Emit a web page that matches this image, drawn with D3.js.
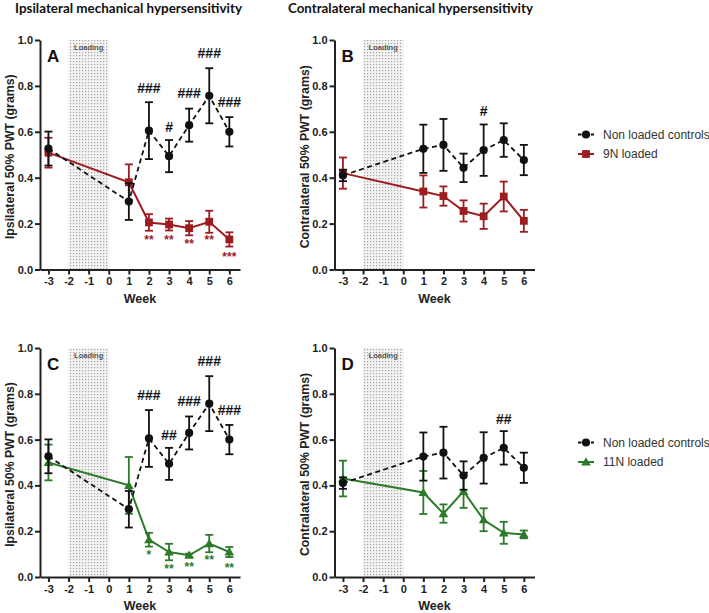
<!DOCTYPE html>
<html><head><meta charset="utf-8">
<script src="https://cdn.jsdelivr.net/npm/d3@7"></script>
<style>
html,body{margin:0;padding:0;background:#fff;}
svg{display:block;}
</style></head>
<body>
<svg id="chart" width="709" height="613"></svg>
<script>
// ---------------- DATA ----------------
const weeks = [-3, 1, 2, 3, 4, 5, 6];
const xTicks = [-3, -2, -1, 0, 1, 2, 3, 4, 5, 6];
const yTicks = [0, 0.2, 0.4, 0.6, 0.8, 1.0];
const loadingWeeks = [-2, 0];

const ctrlIpsiMean   = [0.527, 0.296, 0.605, 0.494, 0.629, 0.757, 0.600];
const ctrlIpsiErr    = [0.074, 0.080, 0.124, 0.070, 0.072, 0.120, 0.064];
const ctrlContraMean = [0.410, 0.526, 0.543, 0.443, 0.520, 0.564, 0.477];
const ctrlContraErr  = [0.025, 0.105, 0.113, 0.062, 0.112, 0.073, 0.066];

const n9IpsiMean     = [0.509, 0.380, 0.205, 0.196, 0.180, 0.208, 0.131];
const n9IpsiErr      = [0.065, 0.078, 0.036, 0.026, 0.031, 0.048, 0.031];
const n9ContraMean   = [0.420, 0.340, 0.320, 0.255, 0.232, 0.318, 0.212];
const n9ContraErr    = [0.068, 0.070, 0.042, 0.046, 0.055, 0.065, 0.048];

const n11IpsiMean    = [0.500, 0.400, 0.163, 0.109, 0.095, 0.146, 0.109];
const n11IpsiErr     = [0.078, 0.124, 0.030, 0.036, 0.007, 0.038, 0.022];
const n11ContraMean  = [0.430, 0.369, 0.277, 0.374, 0.250, 0.193, 0.186];
const n11ContraErr   = [0.078, 0.094, 0.040, 0.072, 0.050, 0.048, 0.017];

// significance annotations: [week, label, y-value]
const hashA = [[2, "###", 0.793], [3, "#", 0.62], [4, "###", 0.767], [5, "###", 0.942], [6, "###", 0.73]];
const hashB = [[4, "#", 0.69]];
const hashC = [[2, "###", 0.793], [3, "##", 0.62], [4, "###", 0.767], [5, "###", 0.942], [6, "###", 0.73]];
const hashD = [[5, "##", 0.69]];
const starsA = [[2, "**", 0.141], [3, "**", 0.141], [4, "**", 0.122], [5, "**", 0.138], [6, "***", 0.066]];
const starsC = [[2, "*", 0.106], [3, "**", 0.046], [4, "**", 0.054], [5, "**", 0.083], [6, "**", 0.052]];

const titles = ["Ipsilateral mechanical hypersensitivity", "Contralateral mechanical hypersensitivity"];
const legendCtrl = "Non loaded controls";
const legend9 = "9N loaded";
const legend11 = "11N loaded";

// ---------------- STYLE ----------------
const RED = "#9d1c1f", GREEN = "#2d7a2a", BLACK = "#111";
const AXIS = "#222";

const svg = d3.select("#chart");

// stipple pattern
const defs = svg.append("defs");
const pat = defs.append("pattern").attr("id", "stip").attr("patternUnits", "userSpaceOnUse")
  .attr("width", 3).attr("height", 3);
pat.append("rect").attr("width", 3).attr("height", 3).attr("fill", "#f3f3f3");
pat.append("rect").attr("x", 1).attr("y", 1).attr("width", 1.2).attr("height", 1.2).attr("fill", "#a5a5a5");

function fitText(sel, target) {
  let fs = parseFloat(sel.style("font-size"));
  for (let i = 0; i < 4; i++) {
    const w = sel.node().getComputedTextLength();
    if (!w) break;
    fs = fs * target / w;
    sel.style("font-size", fs + "px");
  }
}

// titles
const t1 = svg.append("text").attr("x", 15).attr("y", 13)
  .style("font-family", "Lato, 'Open Sans', sans-serif").style("font-weight", "bold")
  .style("font-size", "12.5px").attr("fill", "#111").text(titles[0]);
fitText(t1, 227);
const t2 = svg.append("text").attr("x", 288).attr("y", 13)
  .style("font-family", "Lato, 'Open Sans', sans-serif").style("font-weight", "bold")
  .style("font-size", "12.5px").attr("fill", "#111").text(titles[1]);
fitText(t2, 245);

const panels = [
  {letter: "A", x0: 40, x1: 240, y0: 40, y1: 269.5, ylab: "Ipsilateral 50% PWT (grams)", ctrl: [ctrlIpsiMean, ctrlIpsiErr],
   load: [n9IpsiMean, n9IpsiErr], color: RED, shape: "square", hashes: hashA, stars: starsA},
  {letter: "B", x0: 334.5, x1: 534.5, y0: 40, y1: 269.5, ylab: "Contralateral 50% PWT (grams)", ctrl: [ctrlContraMean, ctrlContraErr],
   load: [n9ContraMean, n9ContraErr], color: RED, shape: "square", hashes: hashB, stars: [], legend: legend9},
  {letter: "C", x0: 40, x1: 240, y0: 348, y1: 577, ylab: "Ipsilateral 50% PWT (grams)", ctrl: [ctrlIpsiMean, ctrlIpsiErr],
   load: [n11IpsiMean, n11IpsiErr], color: GREEN, shape: "triangle", hashes: hashC, stars: starsC},
  {letter: "D", x0: 334.5, x1: 534.5, y0: 348, y1: 577, ylab: "Contralateral 50% PWT (grams)", ctrl: [ctrlContraMean, ctrlContraErr],
   load: [n11ContraMean, n11ContraErr], color: GREEN, shape: "triangle", hashes: hashD, stars: [], legend: legend11}
];

function drawMarker(g, shape, cx, cy, color) {
  if (shape === "circle") {
    g.append("circle").attr("cx", cx).attr("cy", cy).attr("r", 4.1).attr("fill", BLACK);
  } else if (shape === "square") {
    g.append("rect").attr("x", cx - 3.9).attr("y", cy - 3.9).attr("width", 7.8).attr("height", 7.8).attr("fill", color);
  } else {
    g.append("path").attr("transform", `translate(${cx},${cy + 0.8})`)
      .attr("d", d3.symbol().type(d3.symbolTriangle).size(40)()).attr("fill", color);
  }
}

panels.forEach(p => {
  const g = svg.append("g");
  const x = d3.scaleLinear().domain([-3.42, 6.53]).range([p.x0, p.x1]);
  const y = d3.scaleLinear().domain([0, 1]).range([p.y1, p.y0]);

  // loading band
  g.append("rect").attr("x", x(loadingWeeks[0])).attr("y", y(1))
    .attr("width", x(loadingWeeks[1]) - x(loadingWeeks[0])).attr("height", y(0) - y(1))
    .attr("fill", "url(#stip)");
  g.append("text").attr("x", x((loadingWeeks[0] + loadingWeeks[1]) / 2)).attr("y", y(1) + 10)
    .attr("text-anchor", "middle").style("font-family", "Arial, 'Liberation Sans', sans-serif")
    .style("font-weight", "bold").style("font-size", "7.5px").attr("fill", "#555").text("Loading");

  // axes
  const ya = g.append("g").attr("transform", `translate(${p.x0},0)`)
    .call(d3.axisLeft(y).tickValues(yTicks).tickFormat(d3.format(".1f")).tickSize(5).tickSizeOuter(0).tickPadding(2));
  const xa = g.append("g").attr("transform", `translate(0,${p.y1})`)
    .call(d3.axisBottom(x).tickValues(xTicks).tickFormat(d3.format("d")).tickSize(5).tickSizeOuter(0).tickPadding(3));
  [ya, xa].forEach(a => {
    a.select(".domain").attr("stroke", AXIS).attr("stroke-width", 2);
    a.selectAll(".tick line").attr("stroke", AXIS).attr("stroke-width", 2);
    a.selectAll(".tick text").style("font-family", "Arial, 'Liberation Sans', sans-serif")
      .style("font-weight", "bold").style("font-size", "11px").attr("fill", "#222");
  });
  xa.selectAll(".tick text").text(d => d < 0 ? "-" + Math.abs(d) : d);

  // axis labels
  g.append("text").attr("x", (p.x0 + p.x1) / 2).attr("y", p.y1 + 33)
    .attr("text-anchor", "middle").style("font-family", "Arial, 'Liberation Sans', sans-serif")
    .style("font-weight", "bold").style("font-size", "12.5px").attr("fill", "#222").text("Week");
  g.append("text").attr("transform", `translate(${p.x0 - 26},${(p.y0 + p.y1) / 2 + 2}) rotate(-90)`)
    .attr("text-anchor", "middle").style("font-family", "Arial, 'Liberation Sans', sans-serif")
    .style("font-weight", "bold").style("font-size", "12.3px").attr("fill", "#222").text(p.ylab);

  // panel letter
  g.append("text").attr("x", p.x0 + 7).attr("y", p.y0 + 22)
    .style("font-family", "Arial, 'Liberation Sans', sans-serif").style("font-weight", "bold")
    .style("font-size", "17px").attr("fill", "#111").text(p.letter);

  const line = d3.line().x(d => x(d[0])).y(d => y(d[1]));

  // loaded series
  const lm = p.load[0], le = p.load[1];
  const lpts = weeks.map((w, i) => [w, lm[i]]);
  g.append("path").attr("d", line(lpts)).attr("fill", "none").attr("stroke", p.color).attr("stroke-width", 2);
  weeks.forEach((w, i) => {
    const cx = x(w);
    g.append("line").attr("x1", cx).attr("x2", cx).attr("y1", y(lm[i] - le[i])).attr("y2", y(lm[i] + le[i]))
      .attr("stroke", p.color).attr("stroke-width", 1.8);
    [lm[i] - le[i], lm[i] + le[i]].forEach(v => g.append("line").attr("x1", cx - 4).attr("x2", cx + 4)
      .attr("y1", y(v)).attr("y2", y(v)).attr("stroke", p.color).attr("stroke-width", 1.8));
    drawMarker(g, p.shape, cx, y(lm[i]), p.color);
  });

  // control series
  const cm = p.ctrl[0], ce = p.ctrl[1];
  const cpts = weeks.map((w, i) => [w, cm[i]]);
  g.append("path").attr("d", line(cpts)).attr("fill", "none").attr("stroke", BLACK)
    .attr("stroke-width", 1.8).attr("stroke-dasharray", "5,3.5");
  weeks.forEach((w, i) => {
    const cx = x(w);
    g.append("line").attr("x1", cx).attr("x2", cx).attr("y1", y(cm[i] - ce[i])).attr("y2", y(cm[i] + ce[i]))
      .attr("stroke", BLACK).attr("stroke-width", 1.8);
    [cm[i] - ce[i], cm[i] + ce[i]].forEach(v => g.append("line").attr("x1", cx - 4).attr("x2", cx + 4)
      .attr("y1", y(v)).attr("y2", y(v)).attr("stroke", BLACK).attr("stroke-width", 1.8));
    drawMarker(g, "circle", cx, y(cm[i]), BLACK);
  });

  // hashes
  p.hashes.forEach(h => {
    g.append("text").attr("x", x(h[0])).attr("y", y(h[2]) + 5)
      .attr("text-anchor", "middle").style("font-family", "Arial, 'Liberation Sans', sans-serif")
      .style("font-weight", "bold").style("font-size", "14px").attr("fill", "#111").text(h[1]);
  });
  // stars
  p.stars.forEach(s => {
    g.append("text").attr("x", x(s[0])).attr("y", y(s[2]) + 6.5)
      .attr("text-anchor", "middle").style("font-family", "Arial, 'Liberation Sans', sans-serif")
      .style("font-weight", "bold").style("font-size", "12px").attr("fill", p.color).text(s[1]);
  });

  // legend
  if (p.legend) {
    const ly1 = p.y0 + 94.5, ly2 = p.y0 + 114;
    const lg = svg.append("g");
    lg.append("line").attr("x1", 578).attr("x2", 594).attr("y1", ly1).attr("y2", ly1)
      .attr("stroke", BLACK).attr("stroke-width", 1.8).attr("stroke-dasharray", "3.5,3");
    drawMarker(lg, "circle", 586, ly1, BLACK);
    lg.append("line").attr("x1", 578).attr("x2", 594).attr("y1", ly2).attr("y2", ly2)
      .attr("stroke", p.color).attr("stroke-width", 2);
    drawMarker(lg, p.shape, 586, ly2, p.color);
    [[ly1, legendCtrl], [ly2, p.legend]].forEach(r => lg.append("text").attr("x", 603).attr("y", r[0] + 4.3)
      .style("font-family", "Arial, 'Liberation Sans', sans-serif").style("font-size", "12px")
      .attr("fill", "#333").text(r[1]));
  }
});
</script>
</body></html>
